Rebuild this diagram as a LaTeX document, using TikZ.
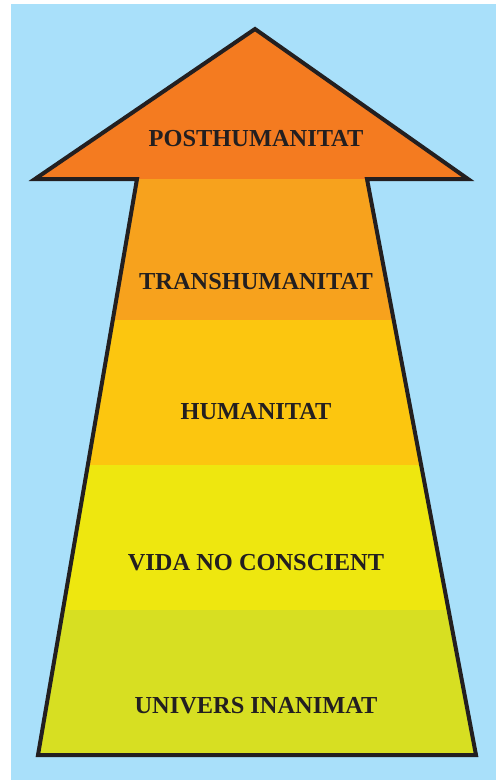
\documentclass[tikz,border=0pt]{standalone}
\usepackage{fontspec}
\setmainfont{Liberation Serif}
\usepackage{xcolor}
\usetikzlibrary{calc}

\definecolor{skyback}{HTML}{A9E0FA}
\definecolor{postcol}{HTML}{F47B20}
\definecolor{transcol}{HTML}{F7A21D}
\definecolor{humcol}{HTML}{FCC60F}
\definecolor{vidacol}{HTML}{EEE70F}
\definecolor{univcol}{HTML}{D7DF22}
\definecolor{edgecol}{HTML}{231F20}

\tikzset{
  levellabel/.style={font=\bfseries\fontsize{24.4}{26}\selectfont, text=edgecol, inner sep=0pt}
}

\begin{document}
\begin{tikzpicture}[x=1pt,y=-1pt]
  \useasboundingbox (0,0) rectangle (496,780);
  \fill[skyback] (11,4) rectangle (496,780);
  % arrow outline, used for clipping the bands
  \begin{scope}
    \clip (255,29) -- (468,179) -- (367,179) -- (476,755) -- (38,755)
      -- (137,179) -- (35,179) -- cycle;
    \fill[postcol] (0,0) rectangle (496,179);
    \fill[transcol] (0,179) rectangle (496,320);
    \fill[humcol] (0,320) rectangle (496,465);
    \fill[vidacol] (0,465) rectangle (496,610);
    \fill[univcol] (0,610) rectangle (496,780);
  \end{scope}
  \draw[edgecol, line width=4pt, line join=miter]
    (255,29) -- (468,179) -- (367,179) -- (476,755) -- (38,755)
    -- (137,179) -- (35,179) -- cycle;
  \node[levellabel] (post) at (256,139) {POSTHUMANITAT};
  \node[levellabel] (trans) at (256,282) {TRANSHUMANITAT};
  \node[levellabel] (hum) at (256,412) {HUMANITAT};
  \node[levellabel] (vida) at (256,563) {VIDA NO CONSCIENT};
  \node[levellabel] (univ) at (256,706) {UNIVERS INANIMAT};
\end{tikzpicture}
\end{document}
